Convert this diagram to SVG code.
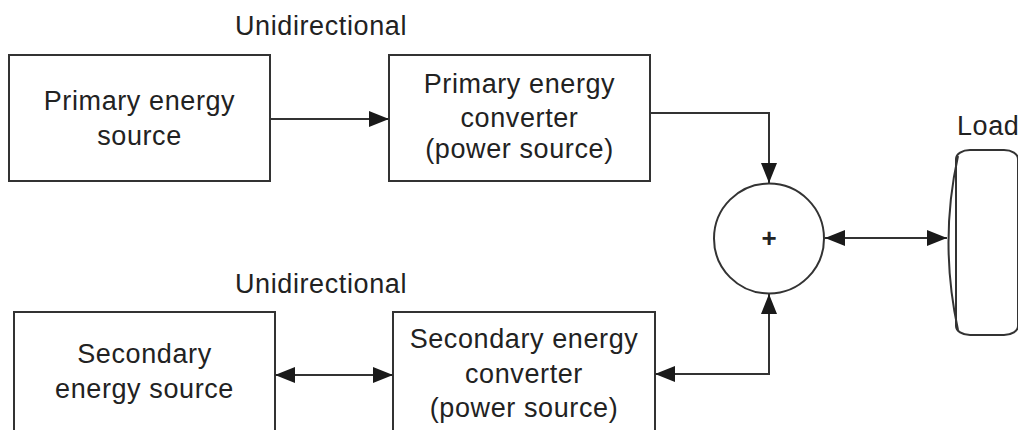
<svg xmlns="http://www.w3.org/2000/svg" width="1018" height="430" viewBox="0 0 1018 430">
<style>
.box{fill:#fff;stroke:#333;stroke-width:2}
.t{font-family:"Liberation Sans",Arial,sans-serif;font-size:27px;fill:#222;text-anchor:middle;letter-spacing:0.6px}
.c{fill:none;stroke:#333;stroke-width:2}
</style>
<defs>
<marker id="ah" markerUnits="userSpaceOnUse" markerWidth="22" markerHeight="16" refX="20" refY="8" orient="auto-start-reverse" viewBox="0 0 22 16">
<path d="M0 0 L20 8 L0 16 Z" fill="#1a1a1a"/>
</marker>
</defs>
<rect width="1018" height="430" fill="#fff"/>
<text class="t" x="321" y="35">Unidirectional</text>
<text class="t" x="321" y="293">Unidirectional</text>
<g id="primary-source">
<rect class="box" x="9" y="55" width="261" height="126"/>
<text class="t" x="139.5" y="110">Primary energy</text>
<text class="t" x="139.5" y="145">source</text>
</g>
<g id="primary-converter">
<rect class="box" x="389" y="55" width="261" height="126"/>
<text class="t" x="519.5" y="93">Primary energy</text>
<text class="t" x="519.5" y="127">converter</text>
<text class="t" x="519.5" y="158">(power source)</text>
</g>
<g id="secondary-source">
<rect class="box" x="14" y="312" width="261" height="130"/>
<text class="t" x="144.5" y="363">Secondary</text>
<text class="t" x="144.5" y="398">energy source</text>
</g>
<g id="secondary-converter">
<rect class="box" x="393" y="312" width="262" height="130"/>
<text class="t" x="524" y="348">Secondary energy</text>
<text class="t" x="524" y="383">converter</text>
<text class="t" x="524" y="417">(power source)</text>
</g>
<g id="summer">
<circle cx="769" cy="238.5" r="55" fill="#fff" stroke="#333" stroke-width="2"/>
<text x="769" y="247" font-family="Liberation Sans,Arial,sans-serif" font-size="26" font-weight="bold" fill="#222" text-anchor="middle">+</text>
</g>
<g id="load">
<text class="t" x="957" y="135" style="text-anchor:start">Load</text>
<rect x="956" y="150" width="62" height="185" rx="14" ry="9" fill="#fff" stroke="#333" stroke-width="2"/>
<path d="M958 156 Q939 242 958 330" fill="none" stroke="#333" stroke-width="2"/>
</g>
<g id="connectors">
<path class="c" d="M270 119 H389" marker-end="url(#ah)"/>
<path class="c" d="M650 113 H769 V183" marker-end="url(#ah)"/>
<path class="c" d="M825 238 H947" marker-start="url(#ah)" marker-end="url(#ah)"/>
<path class="c" d="M655 374 H769 V294" marker-start="url(#ah)" marker-end="url(#ah)"/>
<path class="c" d="M275 375 H393" marker-start="url(#ah)" marker-end="url(#ah)"/>
</g>
</svg>
